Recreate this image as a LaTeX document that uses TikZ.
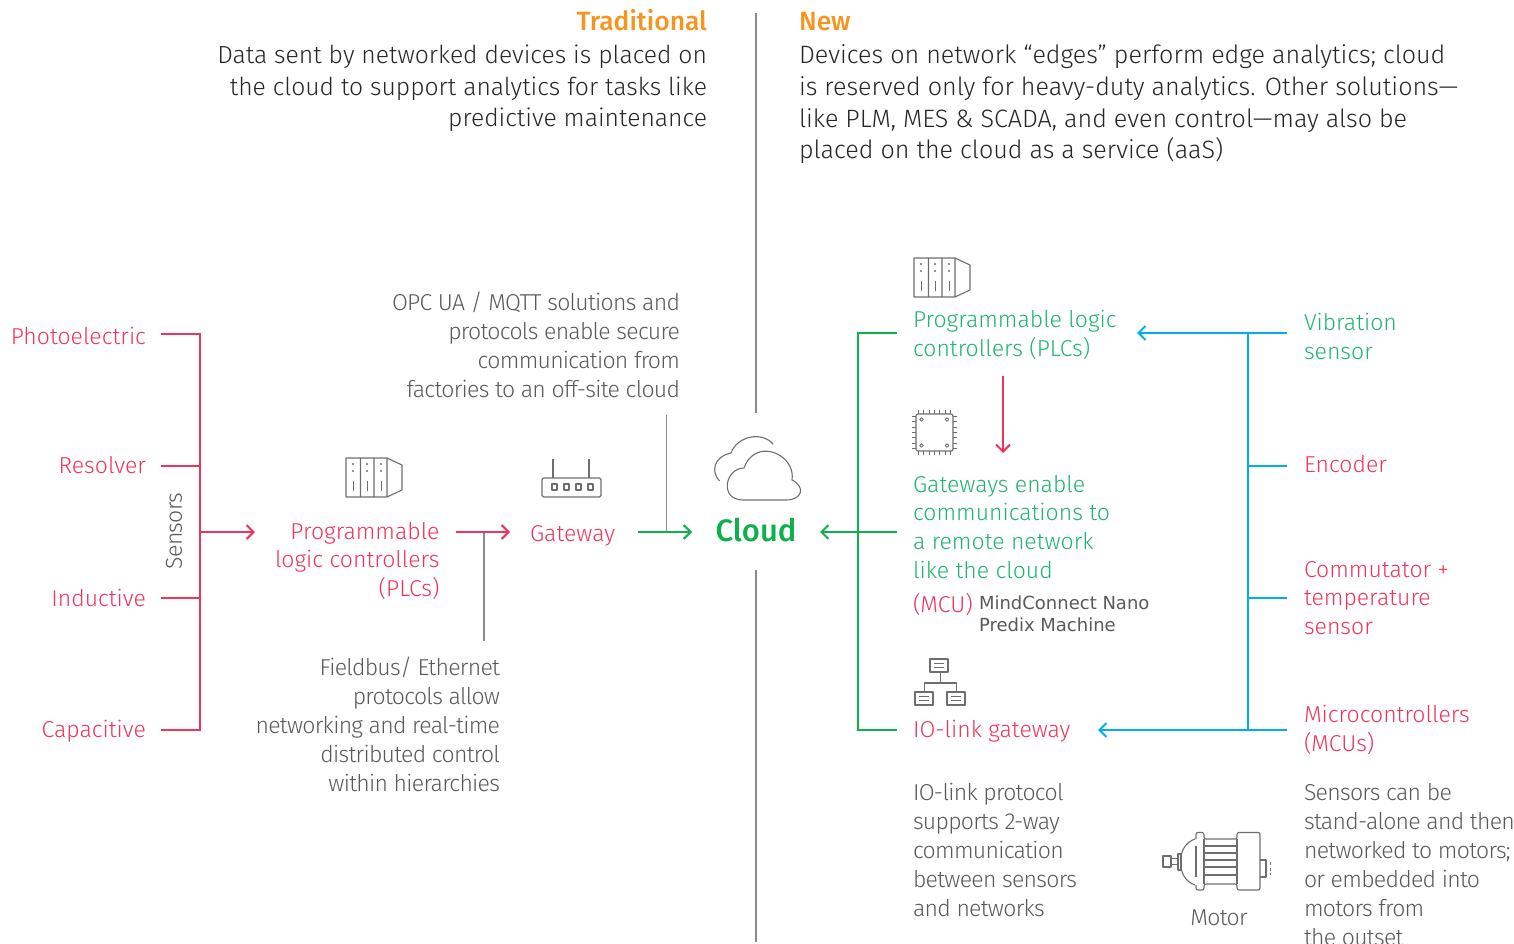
\documentclass[tikz,border=0pt]{standalone}
\usepackage{fontspec}
\setmainfont{Fira Sans}[UprightFont=* Light,BoldFont=* Medium]
\newfontfamily\tightf{Fira Sans}[UprightFont=* Light,LetterSpace=-3.1]
\newfontfamily\verdf{DejaVu Sans}
\usetikzlibrary{arrows.meta}
\definecolor{pinkc}{HTML}{F0345A}
\definecolor{greent}{HTML}{1DB56F}
\definecolor{greenl}{HTML}{0DB14B}
\definecolor{bluec}{HTML}{00AEEF}
\definecolor{orangec}{HTML}{F7941D}
\definecolor{grayt}{HTML}{58595B}
\definecolor{rulec}{HTML}{8C8C8C}
\definecolor{iconc}{HTML}{6D6E70}
\tikzset{
 x=1pt,y=-1pt,
 txt/.style={inner sep=0pt,outer sep=0pt,font=\fontsize{23}{28.8}\selectfont},
 head/.style={txt,text=black!85,font=\fontsize{24.7}{31.7}\selectfont},
 headr/.style={txt,text=black!85,font=\fontsize{25.1}{31.7}\selectfont},
 hl/.style={inner sep=0pt,outer sep=0pt,text=orangec,font=\fontsize{26.4}{30}\selectfont\bfseries},
 pinkt/.style={txt,text=pinkc},
 greentx/.style={txt,text=greent},
 bluet/.style={txt,text=bluec},
 grayx/.style={txt,text=grayt,font=\fontsize{23}{29}\selectfont\tightf},
 R/.style={align=right,anchor=north east},
 L/.style={align=left,anchor=north west},
 wire/.style={line width=2pt,line cap=butt,line join=miter},
 pinkl/.style={wire,draw=pinkc},
 greenw/.style={wire,draw=greenl},
 bluew/.style={wire,draw=bluec},
 grayw/.style={line width=1.4pt,draw=rulec},
 tip/.style={-{Straight Barb[length=7pt,width=14pt,line width=2pt]}},
 icon/.style={draw=iconc,line width=1.1pt,line join=round},
 plc/.pic={
  \draw[icon] (0,0) rectangle (41,39) (14.5,0)--(14.5,39) (28,0)--(28,39)
     (41,0)--(56,7)--(56,32)--(41,39);
  \foreach \a in {7,21,35}{
   \fill[iconc] (\a,6) circle (1.1) (\a,13) circle (1.1);
   \draw[icon,line width=.9pt] (\a,23)--(\a,33);}
 }
}
\begin{document}
\begin{tikzpicture}
\useasboundingbox (0,0) rectangle (1514,944);
% rule
\coordinate (ruleA) at (756,13);
\coordinate (ruleB) at (756,413);
\coordinate (ruleC) at (756,570);
\coordinate (ruleD) at (756,942);
\draw[grayw] (ruleA)--(ruleB);
\draw[grayw] (ruleC)--(ruleD);
% headers
\node[hl,anchor=base east] (tradh) at (707,31) {Traditional};
\node[hl,anchor=base west] (newh) at (799,31) {New};
\node[head,R] (tradt) at (707,45) {Data sent by networked devices is placed on\\the cloud to support analytics for tasks like\\predictive maintenance};
\node[headr,L] (newt) at (799,45) {Devices on network “edges” perform edge analytics; cloud\\is reserved only for heavy-duty analytics. Other solutions—\\like PLM, MES \& SCADA, and even control—may also be\\placed on the cloud as a service (aaS)};
% left sensors
\node[pinkt,anchor=base east] (photo) at (146,344) {Photoelectric};
\node[pinkt,anchor=base east] (resol) at (146,473) {Resolver};
\node[pinkt,anchor=base east] (induc) at (146,606) {Inductive};
\node[pinkt,anchor=base east] (capac) at (146,737) {Capacitive};
\node[grayx,rotate=90,anchor=center] (sens) at (174,531) {Sensors};
\coordinate (p1) at (161,334);
\coordinate (p2) at (161,466);
\coordinate (p3) at (161,598);
\coordinate (p4) at (161,730);
\coordinate (bus) at (200,334);
\coordinate (busb) at (200,730);
\coordinate (busm) at (200,532);
\coordinate (plcin) at (255,532);
\draw[pinkl] (p1)--(bus)--(busb)--(p4);
\draw[pinkl] (p2)--(p2-|bus);
\draw[pinkl] (p3)--(p3-|bus);
\draw[pinkl,tip] (busm)--(plcin);
% left PLC
\pic at (346,458) {plc};
\node[pinkt,R] (lplc) at (439.5,522) {Programmable\\logic controllers\\(PLCs)};
\coordinate (a1) at (456,532);
\coordinate (a2) at (510,532);
\coordinate (a3) at (484,532);
\coordinate (a4) at (484,641);
\draw[grayw] (a3)--(a4);
\draw[pinkl,tip] (a1)--(a2);
% gateway icon
\draw[icon,rounded corners=1.5pt] (542,478) rectangle (601,497);
\draw[icon] (553,459)--(553,478) (589,459)--(589,478);
\foreach \a in {552,564,576,588}{\draw[icon] (\a,484) rectangle (\a+5,490);}
\node[pinkt,anchor=base west] (lgate) at (530,541) {Gateway};
\coordinate (g1) at (638,532);
\coordinate (g2) at (692,532);
\coordinate (g3) at (666.5,532);
\coordinate (g4) at (666.5,415);
\draw[grayw] (g3)--(g4);
\draw[greenw,tip] (g1)--(g2);
% gray notes
\node[grayx,R] (opc) at (680,292) {OPC UA / MQTT solutions and\\protocols enable secure\\communication from\\factories to an off-site cloud};
\node[grayx,R] (field) at (500,657) {Fieldbus/ Ethernet\\protocols allow\\networking and real-time\\distributed control\\within hierarchies};
% cloud
\draw[icon] (719.5,481) .. controls (711,472) and (713,457) .. (731,453) .. controls (737,436) and (762,431) .. (773,444);
\draw[icon] (743,500) -- (786,500) .. controls (802,500) and (806,487) .. (792,480) .. controls (795,460) and (772,446) .. (757,453) .. controls (750,456) and (746,462) .. (744,468) .. controls (725,468) and (719,500) .. (743,500);
\node[inner sep=0pt,outer sep=0pt,text=greenl,font=\fontsize{31}{36}\selectfont\bfseries,anchor=base] (cloud) at (756,541) {Cloud};
% right trunk green
\coordinate (t1) at (897,333);
\coordinate (t2) at (858,333);
\coordinate (t3) at (858,730);
\coordinate (t4) at (897,730);
\coordinate (t5) at (897,532);
\coordinate (t6) at (820,532);
\draw[greenw] (t1)--(t2)--(t3)--(t4);
\draw[greenw,tip] (t5)--(t6);
% right PLC
\pic at (914,258) {plc};
\node[greentx,L] (rplc) at (913,310) {Programmable logic\\controllers (PLCs)};
\coordinate (r1) at (1003,376);
\coordinate (r2) at (1003,453);
\draw[pinkl,tip] (r1)--(r2);
% chip
\draw[icon,rounded corners=2pt] (916,414) rectangle (953,451);
\foreach \a in {0,1,2,3,4,5,6}{
 \draw[icon,line width=.7pt] (918.5+\a*5.3,410)--(918.5+\a*5.3,414) (918.5+\a*5.3,451)--(918.5+\a*5.3,455);
 \draw[icon,line width=.7pt] (912,416.5+\a*5.3)--(916,416.5+\a*5.3) (953,416.5+\a*5.3)--(957,416.5+\a*5.3);}
\foreach \a/\b in {921.5/419.5,947/419.5,921.5/445.5,947/445.5}{\draw[icon,line width=.8pt] (\a,\b) circle (1.8);}
\node[greentx,L] (gtxt) at (913,475) {Gateways enable\\communications to\\a remote network\\like the cloud};
\node[pinkt,anchor=base west] (mcu) at (913,612) {(MCU)};
\node[inner sep=0pt,outer sep=0pt,text=grayt,font=\fontsize{18}{21.5}\selectfont\verdf,align=left,anchor=north west] (mind) at (979,596) {MindConnect Nano\\Predix Machine};
% hierarchy icon
\draw[icon] (930,659) rectangle (948,672);
\draw[icon] (915,692) rectangle (933,705);
\draw[icon] (947,692) rectangle (965,705);
\draw[icon] (934,663.5)--(944,663.5) (934,667.5)--(944,667.5)
 (919,696.5)--(929,696.5) (919,700.5)--(929,700.5)
 (951,696.5)--(961,696.5) (951,700.5)--(961,700.5);
\draw[icon] (940.5,672)--(940.5,683) (924.5,692)--(924.5,683)--(956.5,683)--(956.5,692);
\node[pinkt,anchor=base west] (iolink) at (913,737) {IO-link gateway};
\node[grayx,L] (iotxt) at (913,783) {IO-link protocol\\supports 2-way\\communication\\between sensors\\and networks};
% right blue
\coordinate (b1) at (1287,333);
\coordinate (b2) at (1137,333);
\coordinate (b3) at (1287,730);
\coordinate (b4) at (1098,730);
\coordinate (b5) at (1248,333);
\coordinate (b6) at (1248,730);
\coordinate (b7) at (1287,466);
\coordinate (b8) at (1287,598);
\draw[bluew] (b5)--(b6);
\draw[bluew,tip] (b1)--(b2);
\draw[bluew,tip] (b3)--(b4);
\draw[bluew] (b7)--(b7-|b5);
\draw[bluew] (b8)--(b8-|b5);
\node[greentx,L] (vib) at (1304,313) {Vibration\\sensor};
\node[pinkt,anchor=base west] (enc) at (1304,472) {Encoder};
\node[pinkt,L] (comm) at (1304,561) {Commutator +\\temperature\\sensor};
\node[pinkt,L] (micro) at (1304,705) {Microcontrollers\\(MCUs)};
\node[grayx,L] (stxt) at (1304,783) {Sensors can be\\stand-alone and then\\networked to motors;\\or embedded into\\motors from\\the outset};
% motor
\begin{scope}[icon]
\draw (1163,856) rectangle (1171,867);
\draw (1171,858.5)--(1178,858.5) (1171,864.5)--(1178,864.5);
\draw (1178,854)--(1181,854)--(1181,870)--(1178,870)--cycle;
\draw (1195,839) .. controls (1186,842) and (1182,850) .. (1181,856);
\draw (1195,885) .. controls (1186,882) and (1182,874) .. (1181,868);
\draw (1196,846)--(1196,877);
\draw[rounded corners=2pt] (1196,839)--(1196,832.5)--(1204,832.5)--(1204,839)--(1237,839)--(1237,832.5)--(1260,832.5)--(1260,890)--(1237,890)--(1237,884)--(1204,884)--(1204,890)--(1196,890)--(1196,885);
\draw (1204,839)--(1204,884) (1237,839)--(1237,884);
\foreach \a in {846,853,860,867,875}{\draw (1204,\a)--(1237,\a);}
\draw (1260,860)--(1266,860)--(1266,877)--(1260,877);
\draw[line width=.7pt] (1270,862)--(1270,865) (1270,868)--(1270,871) (1270,873)--(1270,875);
\end{scope}
\node[grayx,anchor=base] (motor) at (1219,925) {Motor};
\end{tikzpicture}
\end{document}
